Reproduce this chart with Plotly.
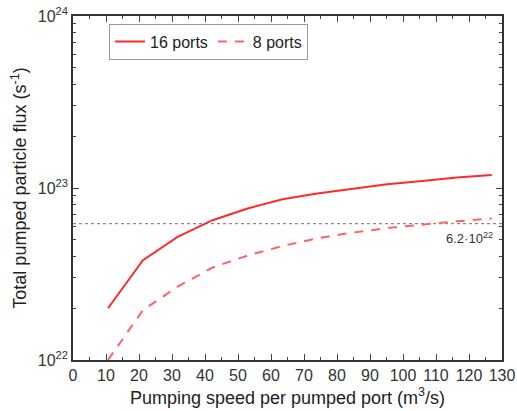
import math
import plotly.graph_objects as go

speed = [10.6, 21.2, 31.7, 42.3, 52.9, 63.5, 74.0, 84.6, 95.2, 105.8, 116.3, 126.9]
flux_16 = [2.0e22, 3.8e22, 5.2e22, 6.5e22, 7.6e22, 8.6e22, 9.3e22, 9.9e22, 1.05e23, 1.10e23, 1.15e23, 1.19e23]
flux_8 = [1.0e22, 1.95e22, 2.67e22, 3.45e22, 4.05e22, 4.6e22, 5.1e22, 5.5e22, 5.85e22, 6.15e22, 6.4e22, 6.65e22]
ref_x = [0, 130]
ref_y = [6.2e22, 6.2e22]
ref_label = "6.2·10<sup>22</sup>"
y_ticks = [1e22, 1e23, 1e24]
y_ticktext = ["10<sup>22</sup>", "10<sup>23</sup>", "10<sup>24</sup>"]
y_minor = [float(m) * 10.0 ** e for e in (22, 23) for m in range(2, 10)]
x_ticks = list(range(0, 131, 10))

font = "Liberation Sans, Arial, sans-serif"
fig = go.Figure()
fig.add_trace(go.Scatter(x=ref_x, y=ref_y, mode="lines", showlegend=False,
                         line=dict(color="#8a8a8a", width=1.3, dash="3px,3px")))
fig.add_trace(go.Scatter(x=speed, y=flux_16, mode="lines", name="16 ports",
                         line=dict(color="#ff2a2a", width=2)))
fig.add_trace(go.Scatter(x=speed, y=flux_8, mode="lines", name="8 ports",
                         line=dict(color="#ff6464", width=2, dash="9px,8px")))

fig.add_annotation(x=128, y=math.log10(ref_y[0]), xref="x", yref="y", text=ref_label,
                   showarrow=False, xanchor="right", yanchor="top", yshift=-4,
                   font=dict(family=font, size=13, color="#333333"))

fig.update_xaxes(range=[0, 130], tickvals=x_ticks, ticks="inside", ticklen=6,
                 showline=True, linecolor="#333333", linewidth=1.5, mirror="ticks",
                 showgrid=False, zeroline=False, ticklabeloverflow="allow",
                 minor=dict(ticks="inside", ticklen=3, dtick=5, tick0=0, showgrid=False),
                 tickfont=dict(family=font, size=16, color="#333333"),
                 title=dict(text="Pumping speed per pumped port (m<sup>3</sup>/s)",
                            font=dict(family=font, size=18, color="#222222"), standoff=8))
fig.update_yaxes(type="log", range=[22, 24], tickvals=y_ticks, ticktext=y_ticktext,
                 ticks="inside", ticklen=6,
                 showline=True, linecolor="#333333", linewidth=1.5, mirror="ticks",
                 showgrid=False, zeroline=False, ticklabeloverflow="allow",
                 minor=dict(ticks="inside", ticklen=3, tickvals=y_minor, showgrid=False),
                 tickfont=dict(family=font, size=16, color="#333333"),
                 title=dict(text="Total pumped particle flux (s<sup>-1</sup>)",
                            font=dict(family=font, size=18, color="#222222"), standoff=6))

fig.update_layout(width=517, height=411, margin=dict(l=73, r=15, t=16, b=51, autoexpand=False),
                  plot_bgcolor="white", paper_bgcolor="white",
                  legend=dict(orientation="h", x=0.084, y=0.978, xanchor="left", yanchor="top",
                              bordercolor="#999999", borderwidth=1, bgcolor="white",
                              font=dict(family=font, size=16, color="#222222"),
                              itemwidth=30, tracegroupgap=0))
fig.write_html("out.html", config={"displayModeBar": False},
               post_script="document.body.style.margin='0';document.body.style.overflow='hidden';")
